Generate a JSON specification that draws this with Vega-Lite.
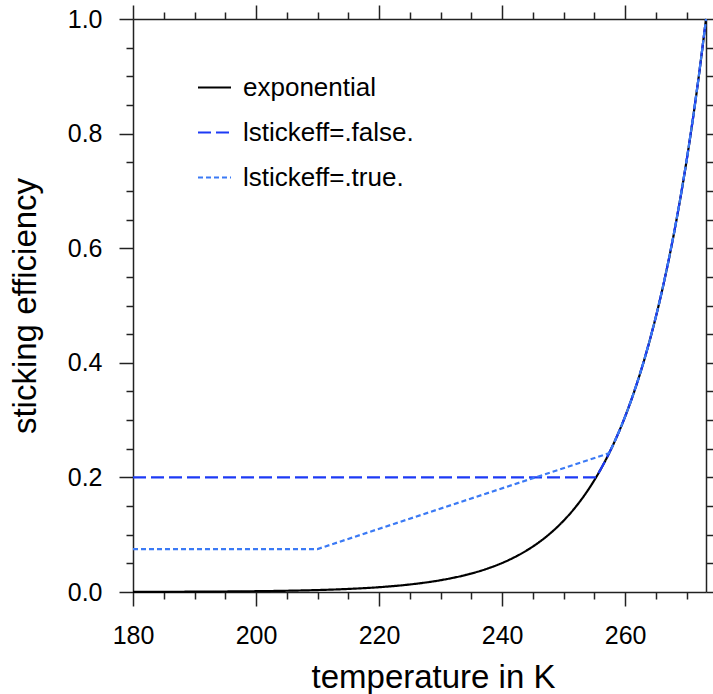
{
  "$schema": "https://vega.github.io/schema/vega-lite/v6.json",
  "width": 573,
  "height": 573,
  "autosize": {"type": "none"},
  "padding": {"left": 133, "top": 19, "right": 7, "bottom": 102},
  "background": "white",
  "config": {
    "view": {"stroke": null},
    "font": "Liberation Sans",
    "axis": {
      "grid": false,
      "domainColor": "#222",
      "domainWidth": 1.5,
      "tickColor": "#222",
      "tickWidth": 1.5,
      "labelFont": "Liberation Sans",
      "labelFontSize": 25,
      "labelColor": "black",
      "titleFont": "Liberation Sans",
      "titleFontSize": 33,
      "titleFontWeight": "normal",
      "titleColor": "black",
      "labelOverlap": false,
      "labelFlush": false
    },
    "legend": {
      "title": null,
      "orient": "none",
      "legendX": 64,
      "legendY": 51,
      "padding": 0,
      "symbolType": "stroke",
      "symbolSize": 1089,
      "symbolStrokeWidth": 2,
      "labelFont": "Liberation Sans",
      "labelFontSize": 26,
      "labelColor": "black",
      "labelOffset": 11,
      "labelLimit": 400,
      "rowPadding": 14
    }
  },
  "data": {
    "values": [
      {"T": 180, "v": 0.00023, "s": "exponential"},
      {"T": 185, "v": 0.00036, "s": "exponential"},
      {"T": 190, "v": 0.00056, "s": "exponential"},
      {"T": 195, "v": 0.00088, "s": "exponential"},
      {"T": 200, "v": 0.00138, "s": "exponential"},
      {"T": 205, "v": 0.00217, "s": "exponential"},
      {"T": 210, "v": 0.0034, "s": "exponential"},
      {"T": 215, "v": 0.00534, "s": "exponential"},
      {"T": 220, "v": 0.00837, "s": "exponential"},
      {"T": 225, "v": 0.01313, "s": "exponential"},
      {"T": 230, "v": 0.02058, "s": "exponential"},
      {"T": 232, "v": 0.02464, "s": "exponential"},
      {"T": 234, "v": 0.0295, "s": "exponential"},
      {"T": 236, "v": 0.03531, "s": "exponential"},
      {"T": 238, "v": 0.04228, "s": "exponential"},
      {"T": 240, "v": 0.05062, "s": "exponential"},
      {"T": 242, "v": 0.06059, "s": "exponential"},
      {"T": 244, "v": 0.07254, "s": "exponential"},
      {"T": 246, "v": 0.08684, "s": "exponential"},
      {"T": 248, "v": 0.10396, "s": "exponential"},
      {"T": 250, "v": 0.12446, "s": "exponential"},
      {"T": 252, "v": 0.149, "s": "exponential"},
      {"T": 254, "v": 0.17837, "s": "exponential"},
      {"T": 256, "v": 0.21354, "s": "exponential"},
      {"T": 258, "v": 0.25565, "s": "exponential"},
      {"T": 260, "v": 0.30606, "s": "exponential"},
      {"T": 262, "v": 0.36659, "s": "exponential"},
      {"T": 264, "v": 0.43891, "s": "exponential"},
      {"T": 266, "v": 0.52546, "s": "exponential"},
      {"T": 268, "v": 0.62908, "s": "exponential"},
      {"T": 270, "v": 0.75313, "s": "exponential"},
      {"T": 272, "v": 0.90167, "s": "exponential"},
      {"T": 273.15, "v": 1.0, "s": "exponential"},

      {"T": 180, "v": 0.2, "s": "lstickeff=.false."},
      {"T": 255.27, "v": 0.2, "s": "lstickeff=.false."},
      {"T": 256, "v": 0.21354, "s": "lstickeff=.false."},
      {"T": 257, "v": 0.23365, "s": "lstickeff=.false."},
      {"T": 258, "v": 0.25565, "s": "lstickeff=.false."},
      {"T": 259, "v": 0.27972, "s": "lstickeff=.false."},
      {"T": 260, "v": 0.30606, "s": "lstickeff=.false."},
      {"T": 261, "v": 0.33488, "s": "lstickeff=.false."},
      {"T": 262, "v": 0.36659, "s": "lstickeff=.false."},
      {"T": 263, "v": 0.40114, "s": "lstickeff=.false."},
      {"T": 264, "v": 0.43891, "s": "lstickeff=.false."},
      {"T": 265, "v": 0.48023, "s": "lstickeff=.false."},
      {"T": 266, "v": 0.52546, "s": "lstickeff=.false."},
      {"T": 267, "v": 0.57494, "s": "lstickeff=.false."},
      {"T": 268, "v": 0.62908, "s": "lstickeff=.false."},
      {"T": 269, "v": 0.6883, "s": "lstickeff=.false."},
      {"T": 270, "v": 0.75313, "s": "lstickeff=.false."},
      {"T": 271, "v": 0.82406, "s": "lstickeff=.false."},
      {"T": 272, "v": 0.90167, "s": "lstickeff=.false."},
      {"T": 273, "v": 0.98659, "s": "lstickeff=.false."},
      {"T": 273.15, "v": 1.0, "s": "lstickeff=.false."},

      {"T": 180, "v": 0.075, "s": "lstickeff=.true."},
      {"T": 210, "v": 0.075, "s": "lstickeff=.true."},
      {"T": 257.4, "v": 0.2423, "s": "lstickeff=.true."},
      {"T": 258, "v": 0.25565, "s": "lstickeff=.true."},
      {"T": 259, "v": 0.27972, "s": "lstickeff=.true."},
      {"T": 260, "v": 0.30606, "s": "lstickeff=.true."},
      {"T": 261, "v": 0.33488, "s": "lstickeff=.true."},
      {"T": 262, "v": 0.36659, "s": "lstickeff=.true."},
      {"T": 263, "v": 0.40114, "s": "lstickeff=.true."},
      {"T": 264, "v": 0.43891, "s": "lstickeff=.true."},
      {"T": 265, "v": 0.48023, "s": "lstickeff=.true."},
      {"T": 266, "v": 0.52546, "s": "lstickeff=.true."},
      {"T": 267, "v": 0.57494, "s": "lstickeff=.true."},
      {"T": 268, "v": 0.62908, "s": "lstickeff=.true."},
      {"T": 269, "v": 0.6883, "s": "lstickeff=.true."},
      {"T": 270, "v": 0.75313, "s": "lstickeff=.true."},
      {"T": 271, "v": 0.82406, "s": "lstickeff=.true."},
      {"T": 272, "v": 0.90167, "s": "lstickeff=.true."},
      {"T": 273, "v": 0.98659, "s": "lstickeff=.true."},
      {"T": 273.15, "v": 1.0, "s": "lstickeff=.true."}
    ]
  },
  "layer": [
    {
      "transform": [{"filter": "datum.s === 'exponential'"}],
      "mark": {"type": "line", "strokeWidth": 2.2, "interpolate": "monotone"},
      "encoding": {
        "x": {
          "field": "T", "type": "quantitative",
          "scale": {"domain": [180, 273.15], "nice": false, "zero": false},
          "axis": {
            "orient": "bottom",
            "title": "temperature in K",
            "values": [180,185,190,195,200,205,210,215,220,225,230,235,240,245,250,255,260,265,270],
            "tickSize": {"condition": {"test": "datum.value % 20 === 0", "value": 14}, "value": 7},
            "labelExpr": "datum.value % 20 === 0 ? datum.label : ''",
            "labelPadding": 17,
            "titleBaseline": "alphabetic",
            "titleAnchor": "start",
            "titleAlign": "center",
            "titleX": 300,
            "titleY": 95
          }
        },
        "y": {
          "field": "v", "type": "quantitative",
          "scale": {"domain": [0, 1], "nice": false},
          "axis": {
            "orient": "left",
            "title": "sticking efficiency",
            "format": ".1f",
            "values": [0,0.05,0.1,0.15,0.2,0.25,0.3,0.35,0.4,0.45,0.5,0.55,0.6,0.65,0.7,0.75,0.8,0.85,0.9,0.95,1.0],
            "tickSize": {"condition": {"test": "round(datum.value*100) % 20 === 0", "value": 14}, "value": 7},
            "labelExpr": "round(datum.value*100) % 20 === 0 ? datum.label : ''",
            "labelPadding": 17,
            "titleX": -98,
            "titleBaseline": "alphabetic"
          }
        },
        "color": {
          "field": "s", "type": "nominal",
          "scale": {"domain": ["exponential", "lstickeff=.false.", "lstickeff=.true."], "range": ["#000000", "#1d3af5", "#3b7af5"]}
        },
        "strokeDash": {
          "field": "s", "type": "nominal",
          "scale": {"domain": ["exponential", "lstickeff=.false.", "lstickeff=.true."], "range": [[1, 0], [13, 5], [5, 3]]}
        }
      }
    },
    {
      "transform": [{"filter": "datum.s !== 'exponential'"}],
      "mark": {"type": "line", "strokeWidth": 2.2},
      "encoding": {
        "x": {"field": "T", "type": "quantitative", "axis": null},
        "y": {"field": "v", "type": "quantitative", "axis": null},
        "color": {"field": "s", "type": "nominal"},
        "strokeDash": {"field": "s", "type": "nominal"}
      }
    },
    {
      "mark": {"type": "line", "opacity": 0},
      "encoding": {
        "x": {
          "field": "T", "type": "quantitative",
          "axis": {
            "orient": "top",
            "title": null,
            "labels": false,
            "values": [180,185,190,195,200,205,210,215,220,225,230,235,240,245,250,255,260,265,270],
            "tickSize": {"condition": {"test": "datum.value % 20 === 0", "value": 14}, "value": 7}
          }
        },
        "y": {
          "field": "v", "type": "quantitative",
          "axis": {
            "orient": "right",
            "title": null,
            "labels": false,
            "values": [0,0.05,0.1,0.15,0.2,0.25,0.3,0.35,0.4,0.45,0.5,0.55,0.6,0.65,0.7,0.75,0.8,0.85,0.9,0.95,1.0],
            "tickSize": {"condition": {"test": "round(datum.value*100) % 20 === 0", "value": 14}, "value": 7}
          }
        }
      }
    }
  ],
  "resolve": {"axis": {"x": "independent", "y": "independent"}}
}
